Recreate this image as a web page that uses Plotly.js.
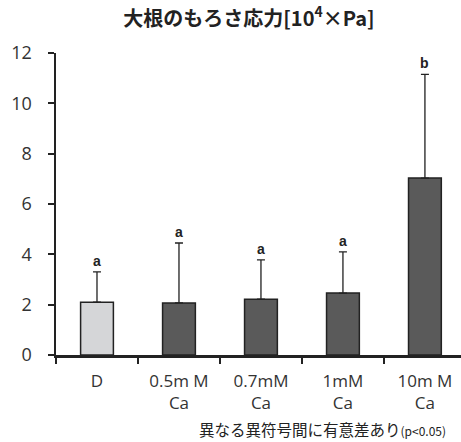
<!DOCTYPE html>
<html><head><meta charset="utf-8">
<script src="https://cdn.plot.ly/plotly-3.0.1.min.js"></script>
<style>body{margin:0;background:#fff}#c{width:461px;height:442px}</style>
</head><body><div id="c"></div>
<script>
const categories = ["D", "0.5mM Ca", "0.7mM Ca", "1mM Ca", "10mM Ca"];
const tickLabels = ["D", "0.5m M<br>Ca", "0.7mM<br>Ca", "1mM<br>Ca", "10m M<br>Ca"];
const means = [2.1, 2.07, 2.22, 2.46, 7.03];
const errors = [1.2, 2.38, 1.56, 1.64, 4.12];
const letters = ["a", "a", "a", "a", "b"];
const barColors = ["#d5d6d8", "#5a5a5a", "#5a5a5a", "#5a5a5a", "#5a5a5a"];

const font = "'Open Sans', 'Noto Sans CJK JP', sans-serif";
const trace = {
  type: "bar", x: categories, y: means, width: 0.4,
  marker: {color: barColors, line: {color: "#222", width: 1.5}},
  error_y: {type: "data", array: errors, symmetric: false, arrayminus: means.map(() => 0),
            color: "#222", thickness: 1.3, width: 4},
  hoverinfo: "none"
};
const ann = categories.map((c, i) => ({
  x: c, y: means[i] + errors[i], text: "<b>" + letters[i] + "</b>", showarrow: false,
  yanchor: "bottom", yshift: 1, font: {family: "Liberation Sans, Arial, sans-serif", size: 14, color: "#222"}
}));
ann.push({
  xref: "paper", yref: "paper", x: 1, y: 0, xanchor: "right", yanchor: "bottom", xshift: -14, yshift: -86,
  showarrow: false, borderpad: 0,
  text: "異なる異符号間に有意差あり<span style='font-size:12px'>(p&lt;0.05)</span>",
  font: {family: "'Noto Sans CJK JP', sans-serif", size: 15.5, color: "#222"}
});
const layout = {
  width: 461, height: 442, showlegend: false,
  margin: {l: 56, r: 0, t: 53, b: 87},
  paper_bgcolor: "#fff", plot_bgcolor: "#fff",
  title: {text: "<b>大根のもろさ応力[10<sup>4</sup>×Pa]</b>", x: 0.54, xanchor: "center", y: 0.958, yanchor: "middle",
          font: {family: "'Noto Sans CJK JP', sans-serif", size: 20, color: "#222"}},
  xaxis: {type: "category", range: [-0.5, 4.44], tickmode: "array", tickvals: categories, ticktext: tickLabels,
          tickson: "boundaries", ticks: "outside", ticklen: 6, tickwidth: 2, tickcolor: "#222",
          showline: true, linecolor: "#222", linewidth: 2.5, showgrid: false, zeroline: false,
          ticklabelstandoff: 9,
          tickfont: {family: font, size: 17, color: "#333"}},
  yaxis: {range: [0, 12], dtick: 2, ticks: "outside", ticklen: 6, tickwidth: 2, tickcolor: "#222",
          showline: true, linecolor: "#222", linewidth: 2.5, showgrid: false, zeroline: false,
          tickfont: {family: font, size: 18, color: "#333"}, ticklabelstandoff: 12},
  annotations: ann
};
Plotly.newPlot("c", [trace], layout, {displayModeBar: false, staticPlot: true});
</script></body></html>
